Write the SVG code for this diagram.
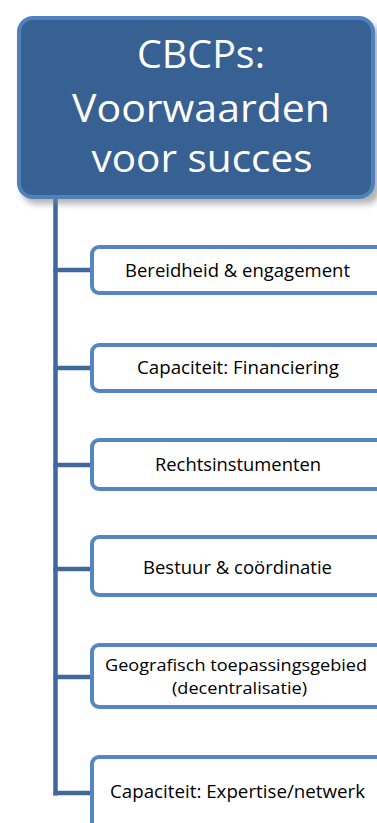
<svg xmlns="http://www.w3.org/2000/svg" width="377" height="823" viewBox="0 0 377 823">
<style>
.conn{stroke:#41689b;stroke-width:4.5;fill:none}
.child{fill:#ffffff;stroke:#5585c3;stroke-width:4}
.ct{font-family:"Open Sans","Noto Sans","Liberation Sans",sans-serif;font-size:17.5px;fill:#000000;text-anchor:middle}
.ct2{font-size:16.5px}
.tt{font-family:"Open Sans","Noto Sans","Liberation Sans",sans-serif;font-size:38px;fill:#ffffff;text-anchor:middle}
</style>
<defs>
<filter id="sh" x="-10%" y="-10%" width="130%" height="130%">
<feGaussianBlur stdDeviation="3"/>
</filter>
</defs>
<g id="connectors">
<line class="conn" x1="55.5" y1="196" x2="55.5" y2="795.5"/>
<line class="conn" x1="53.5" y1="270" x2="90" y2="270"/>
<line class="conn" x1="53.5" y1="368" x2="90" y2="368"/>
<line class="conn" x1="53.5" y1="465" x2="90" y2="465"/>
<line class="conn" x1="53.5" y1="569" x2="90" y2="569"/>
<line class="conn" x1="53.5" y1="677" x2="90" y2="677"/>
<line class="conn" x1="53.5" y1="793" x2="90" y2="793"/>
</g>
<g id="root">
<rect x="22" y="23" width="358" height="181" rx="14" fill="#7f7f7f" opacity="0.6" filter="url(#sh)"/>
<rect x="19" y="18" width="354" height="179" rx="14" fill="#386193" stroke="#4f81bd" stroke-width="4"/>
<text class="tt" x="201" y="68" textLength="128" lengthAdjust="spacingAndGlyphs">CBCPs:</text>
<text class="tt" x="201" y="122" textLength="258" lengthAdjust="spacingAndGlyphs">Voorwaarden</text>
<text class="tt" x="202" y="172" textLength="221" lengthAdjust="spacingAndGlyphs">voor succes</text>
</g>
<g id="n1">
<rect class="child" x="92" y="247" width="296" height="46" rx="7"/>
<text class="ct" x="237.5" y="277" textLength="225" lengthAdjust="spacingAndGlyphs">Bereidheid &amp; engagement</text>
</g>
<g id="n2">
<rect class="child" x="92" y="345" width="296" height="46" rx="7"/>
<text class="ct" x="238" y="374" textLength="202" lengthAdjust="spacingAndGlyphs">Capaciteit: Financiering</text>
</g>
<g id="n3">
<rect class="child" x="92" y="440" width="296" height="49" rx="7"/>
<text class="ct" x="238" y="471" textLength="166" lengthAdjust="spacingAndGlyphs">Rechtsinstumenten</text>
</g>
<g id="n4">
<rect class="child" x="92" y="537" width="296" height="58" rx="7"/>
<text class="ct" x="237.5" y="574" textLength="189" lengthAdjust="spacingAndGlyphs">Bestuur &amp; coördinatie</text>
</g>
<g id="n5">
<rect class="child" x="92" y="645" width="296" height="62" rx="7"/>
<text class="ct ct2" x="236" y="670.5" textLength="262" lengthAdjust="spacingAndGlyphs">Geografisch toepassingsgebied</text>
<text class="ct ct2" x="239.5" y="693.5" textLength="135" lengthAdjust="spacingAndGlyphs">(decentralisatie)</text>
</g>
<g id="n6">
<rect class="child" x="92" y="757" width="296" height="72" rx="7"/>
<text class="ct" x="237.5" y="798" textLength="255" lengthAdjust="spacingAndGlyphs">Capaciteit: Expertise/netwerk</text>
</g>
</svg>
